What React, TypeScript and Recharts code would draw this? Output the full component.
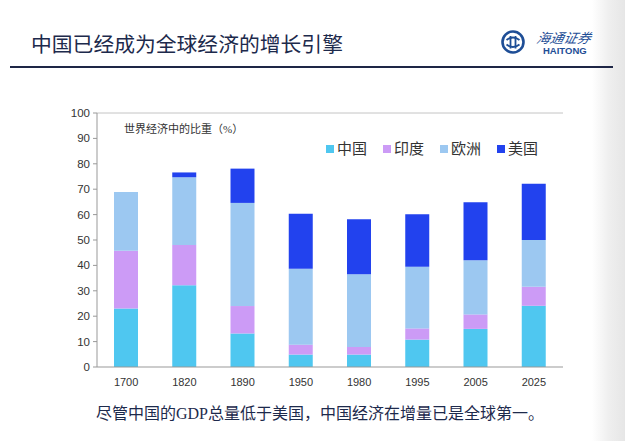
import React from 'react';
import { BarChart, Bar, XAxis, YAxis, ReferenceLine } from 'recharts';

const years = ['1700', '1820', '1890', '1950', '1980', '1995', '2005', '2025'];
const china = [23.0, 32.2, 13.2, 4.9, 4.9, 10.8, 15.0, 24.1];
const india = [22.8, 15.8, 10.8, 3.9, 3.0, 4.4, 5.7, 7.5];
const europe = [23.1, 26.7, 40.6, 29.9, 28.6, 24.3, 21.3, 18.4];
const usa = [0, 1.9, 13.5, 21.6, 21.7, 20.6, 22.9, 22.1];
const yTicks = [0, 10, 20, 30, 40, 50, 60, 70, 80, 90, 100];

const seriesNames = ['中国', '印度', '欧洲', '美国'];
const seriesKeys = ['china', 'india', 'europe', 'usa'];
const seriesColors = ['#4FC7F0', '#CC9BF6', '#9CC8F1', '#2242EE'];

const title = '中国已经成为全球经济的增长引擎';
const innerLabel = '世界经济中的比重（%）';
const caption = '尽管中国的GDP总量低于美国，中国经济在增量已是全球第一。';
const logoName = '海通证券';
const logoLatin = 'HAITONG';

const data = years.map((y, i) => ({
  year: y,
  china: china[i],
  india: india[i],
  europe: europe[i],
  usa: usa[i],
}));

const serif = '"Liberation Serif", "DejaVu Serif", "Noto Sans CJK SC", serif';
const sans = '"Liberation Sans", Arial, "Noto Sans CJK SC", sans-serif';
const navy = '#1E4E96';

function Logo() {
  return (
    <div style={{ position: 'absolute', left: 501, top: 30 }}>
      <svg width={25} height={25} viewBox="0 0 25 25">
        <circle cx={12} cy={12} r={10.5} fill="none" stroke={navy} strokeWidth={2.6} />
        <path d="M5.5 10 Q12 5 18.5 10" fill="none" stroke={navy} strokeWidth={1.8} />
        <path d="M5.5 14.5 Q12 19.5 18.5 14.5" fill="none" stroke={navy} strokeWidth={1.8} />
        <line x1={9.5} y1={6} x2={9.5} y2={18.5} stroke={navy} strokeWidth={1.8} />
        <line x1={14.5} y1={6} x2={14.5} y2={18.5} stroke={navy} strokeWidth={1.8} />
      </svg>
    </div>
  );
}

export default function App() {
  return (
    <div
      style={{
        position: 'fixed',
        left: 0,
        top: 0,
        width: 625,
        height: 441,
        background: '#ffffff',
        overflow: 'hidden',
      }}
    >
      <div
        style={{
          position: 'absolute',
          left: 592,
          top: 0,
          width: 33,
          height: 441,
          background: 'linear-gradient(to right, #ffffff 0%, #efefef 50%, #e6e6e6 100%)',
        }}
      />
      <div
        style={{
          position: 'absolute',
          left: 31,
          top: 30,
          fontFamily: '"Noto Sans CJK SC", sans-serif',
          fontSize: 20.8,
          lineHeight: '26px',
          color: '#1D2A4C',
          whiteSpace: 'nowrap',
        }}
      >
        {title}
      </div>
      <div
        style={{
          position: 'absolute',
          left: 10,
          top: 66,
          width: 603,
          height: 2,
          background: '#1E2646',
        }}
      />
      <Logo />
      <div
        style={{
          position: 'absolute',
          left: 537,
          top: 29,
          fontFamily: '"Noto Sans CJK SC", sans-serif',
          fontSize: 13.5,
          fontStyle: 'italic',
          lineHeight: '17px',
          color: navy,
          whiteSpace: 'nowrap',
          transform: 'skewX(-14deg)',
        }}
      >
        {logoName}
      </div>
      <div
        style={{
          position: 'absolute',
          left: 543,
          top: 45,
          fontFamily: sans,
          fontSize: 9.5,
          fontWeight: 'bold',
          lineHeight: '11px',
          color: navy,
          whiteSpace: 'nowrap',
        }}
      >
        {logoLatin}
      </div>

      <div style={{ position: 'absolute', left: 0, top: 0 }}>
        <BarChart
          width={625}
          height={441}
          data={data}
          margin={{ top: 113, right: 62, bottom: 54, left: 67 }}
        >
          <XAxis
            dataKey="year"
            height={20}
            axisLine={{ stroke: '#999999' }}
            tickLine={false}
            tick={{ fill: '#333333', fontSize: 11, fontFamily: sans }}
            tickMargin={5}
          />
          <YAxis
            yAxisId="left"
            width={30}
            domain={[0, 100]}
            ticks={yTicks}
            interval={0}
            axisLine={{ stroke: '#999999' }}
            tickLine={{ stroke: '#999999' }}
            tickSize={4}
            tickMargin={3}
            tick={{ fill: '#333333', fontSize: 11.5, fontFamily: sans }}
          />
          <YAxis
            yAxisId="right"
            orientation="right"
            width={0}
            domain={[0, 100]}
            tick={false}
            tickLine={false}
            axisLine={{ stroke: '#c4c4c4' }}
          />
          <ReferenceLine yAxisId="left" y={100} stroke="#c4c4c4" />
          {seriesKeys.map((k, i) => (
            <Bar
              key={k}
              yAxisId="left"
              dataKey={k}
              name={seriesNames[i]}
              stackId="a"
              fill={seriesColors[i]}
              barSize={24}
              isAnimationActive={false}
            />
          ))}
        </BarChart>
      </div>

      <div
        style={{
          position: 'absolute',
          left: 124,
          top: 122,
          fontFamily: serif,
          fontSize: 11,
          lineHeight: '14px',
          color: '#333333',
          whiteSpace: 'nowrap',
        }}
      >
        {innerLabel}
      </div>

      <div
        style={{
          position: 'absolute',
          left: 326,
          top: 139,
          display: 'flex',
          fontFamily: serif,
          fontSize: 15,
          lineHeight: '20px',
          color: '#333333',
          whiteSpace: 'nowrap',
        }}
      >
        {seriesNames.map((n, i) => (
          <div key={n} style={{ display: 'flex', alignItems: 'center', marginRight: 16 }}>
            <span
              style={{
                display: 'inline-block',
                width: 8,
                height: 8,
                background: seriesColors[i],
                marginRight: 3,
              }}
            />
            <span>{n}</span>
          </div>
        ))}
      </div>

      <div
        style={{
          position: 'absolute',
          left: 96,
          top: 403,
          fontFamily: serif,
          fontSize: 16,
          lineHeight: '22px',
          color: '#1D2A4C',
          whiteSpace: 'nowrap',
        }}
      >
        {caption}
      </div>
    </div>
  );
}
